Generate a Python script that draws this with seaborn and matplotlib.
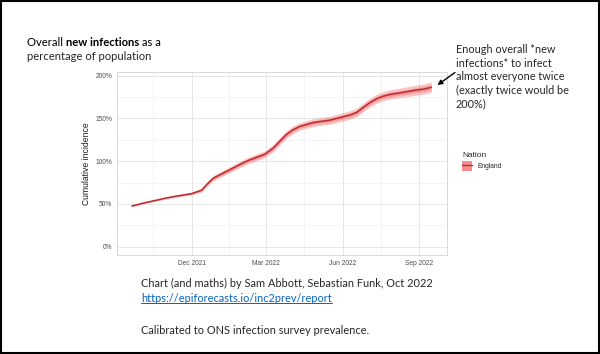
import pandas as pd
import numpy as np
import matplotlib
matplotlib.use("Agg")
import matplotlib.pyplot as plt
import matplotlib.dates as mdates
from matplotlib.patches import Patch, Rectangle
from matplotlib.lines import Line2D
from matplotlib.legend_handler import HandlerTuple
import seaborn as sns

# values (England, cumulative incidence %)
dates = ["2021-09-20", "2021-10-04", "2021-10-18", "2021-11-01", "2021-11-15",
         "2021-12-01", "2021-12-13", "2021-12-19", "2021-12-27", "2022-01-08",
         "2022-01-20", "2022-02-01", "2022-02-09", "2022-02-27", "2022-03-09",
         "2022-03-17", "2022-03-25", "2022-04-02", "2022-04-10", "2022-04-26",
         "2022-05-17", "2022-06-02", "2022-06-10", "2022-06-18", "2022-06-26",
         "2022-07-04", "2022-07-12", "2022-07-20", "2022-07-28", "2022-08-13",
         "2022-08-28", "2022-09-08", "2022-09-16"]
median = [47.5, 51, 54, 57, 59.5, 62, 66, 72.5, 80, 86, 92, 98, 101.5, 108,
          115, 123, 131, 136.5, 140.5, 145, 148, 152, 154, 157, 163, 168.5,
          173, 176, 178, 180.5, 183, 184.5, 186.5]
outer_hw = [0.8, 0.9, 1.0, 1.1, 1.2, 1.5, 2.0, 2.5, 3.0, 3.3, 3.5, 3.8, 3.9,
            4.0, 4.2, 4.4, 4.5, 4.5, 4.5, 4.6, 4.7, 4.8, 5.0, 5.0, 5.1, 5.2,
            5.3, 5.4, 5.5, 5.7, 5.9, 6.1, 6.3]
inner_hw = [0.4, 0.45, 0.5, 0.55, 0.6, 0.7, 1.0, 1.2, 1.5, 1.6, 1.7, 1.9, 1.9,
            2.0, 2.1, 2.2, 2.2, 2.2, 2.2, 2.3, 2.3, 2.4, 2.5, 2.5, 2.5, 2.6,
            2.6, 2.7, 2.7, 2.8, 2.9, 3.0, 3.1]

major_ticks = ["2021-12-01", "2022-03-01", "2022-06-01", "2022-09-01"]
minor_ticks = ["2021-10-16", "2022-01-15", "2022-04-16", "2022-07-17"]
y_ticks = [0, 50, 100, 150, 200]
y_labels = ["0%", "50%", "100%", "150%", "200%"]

df = pd.DataFrame({"date": pd.to_datetime(dates), "median": median,
                   "outer": outer_hw, "inner": inner_hw})
df["nation"] = "England"

line_col = "#C0282D"
fill_col = "#EE6A6A"

sns.set_theme(style="white")
plt.rcParams["font.family"] = ["Liberation Sans", "DejaVu Sans"]

fig = plt.figure(figsize=(6, 3.54), dpi=100)
ax = fig.add_axes([0.195, 0.28, 0.55, 0.5175])

ax.fill_between(df["date"], df["median"] - df["outer"], df["median"] + df["outer"],
                color=fill_col, alpha=0.38, linewidth=0)
ax.fill_between(df["date"], df["median"] - df["inner"], df["median"] + df["inner"],
                color=fill_col, alpha=0.45, linewidth=0)
sns.lineplot(data=df, x="date", y="median", color=line_col, linewidth=1.1,
             ax=ax, legend=False)

ax.set_xlim(pd.Timestamp("2021-09-02"), pd.Timestamp("2022-10-05"))
ax.set_ylim(-9.7, 204.7)
ax.set_xticks(pd.to_datetime(major_ticks))
ax.set_xticks(pd.to_datetime(minor_ticks), minor=True)
ax.xaxis.set_major_formatter(mdates.DateFormatter("%b %Y"))
ax.set_yticks(y_ticks)
ax.set_yticks([25, 75, 125, 175], minor=True)
ax.set_yticklabels(y_labels)
ax.grid(which="major", color="#e6e6e6", linewidth=0.7)
ax.grid(which="minor", color="#f0f0f0", linewidth=0.5)
ax.set_axisbelow(True)
for s in ax.spines.values():
    s.set_color("#d9d9d9")
    s.set_linewidth(0.7)
ax.tick_params(axis="both", which="major", labelsize=4.8, colors="#4d4d4d",
               length=2, width=0.5, pad=1.5)
ax.tick_params(axis="both", which="minor", length=0)
ax.set_xlabel("")
ax.set_ylabel("Cumulative incidence", fontsize=6.2, color="#1a1a1a", labelpad=3)

# legend
handle = (Patch(facecolor=fill_col, alpha=0.75, edgecolor="none"),
          Line2D([], [], color=line_col, linewidth=1.0))
leg = fig.legend([handle], ["England"], title="Nation", loc="upper left",
                 bbox_to_anchor=(0.765, 0.58), frameon=False, fontsize=4.8,
                 title_fontsize=6.0,
                 handler_map={tuple: HandlerTuple(ndivide=1, pad=0)},
                 handlelength=1.5, handleheight=1.9, borderpad=0, labelspacing=0.3,
                 handletextpad=0.8)
leg._legend_box.align = "left"

# slide texts
slide_font = ["Lato", "DejaVu Sans"]
fig.canvas.draw()
renderer = fig.canvas.get_renderer()


def put_parts(x, y, parts, size, color="black"):
    # draw text pieces one after the other, some bold
    for txt, weight in parts:
        t = fig.text(x, y, txt, fontsize=size, family=slide_font,
                     fontweight=weight, color=color, va="baseline")
        bb = t.get_window_extent(renderer)
        x += bb.width / fig.bbox.width
    return x


put_parts(27 / 600, 1 - 46 / 354, [("Overall ", "normal"), ("new infections", "bold"),
                                   (" as a", "normal")], 8.1)
fig.text(27 / 600, 1 - 60 / 354, "percentage of population", fontsize=8.1,
         family=slide_font, va="baseline")

fig.text(456 / 600, 1 - 44 / 354,
         "Enough overall *new\ninfections* to infect\nalmost everyone twice\n"
         "(exactly twice would be\n200%)", fontsize=7.8, family=slide_font,
         va="top", ha="left", linespacing=1.28)
ax.annotate("", xy=(437.5 / 600, 1 - 85 / 354), xycoords="figure fraction",
            xytext=(455 / 600, 1 - 72.5 / 354), textcoords="figure fraction",
            arrowprops=dict(arrowstyle="-|>", color="black", lw=1.0,
                            mutation_scale=7, shrinkA=0, shrinkB=0))

fig.text(141 / 600, 1 - 287 / 354,
         "Chart (and maths) by Sam Abbott, Sebastian Funk, Oct 2022",
         fontsize=7.9, family=slide_font, va="baseline")
link = fig.text(141 / 600, 1 - 302 / 354, "https://epiforecasts.io/inc2prev/report",
                fontsize=7.9, family=slide_font, va="baseline", color="#0563C1")
lb = link.get_window_extent(renderer)
fig.add_artist(Line2D([lb.x0 / fig.bbox.width, lb.x1 / fig.bbox.width],
                      [(lb.y0 + 1.0) / fig.bbox.height] * 2,
                      transform=fig.transFigure, color="#0563C1", linewidth=0.7))
fig.text(141 / 600, 1 - 334 / 354, "Calibrated to ONS infection survey prevalence.",
         fontsize=7.9, family=slide_font, va="baseline")

# slide frame
fig.add_artist(Rectangle((0.002, 0.003), 0.996, 0.994, transform=fig.transFigure,
                         fill=False, edgecolor="black", linewidth=1.5))

fig.savefig("out.png", dpi=100)
